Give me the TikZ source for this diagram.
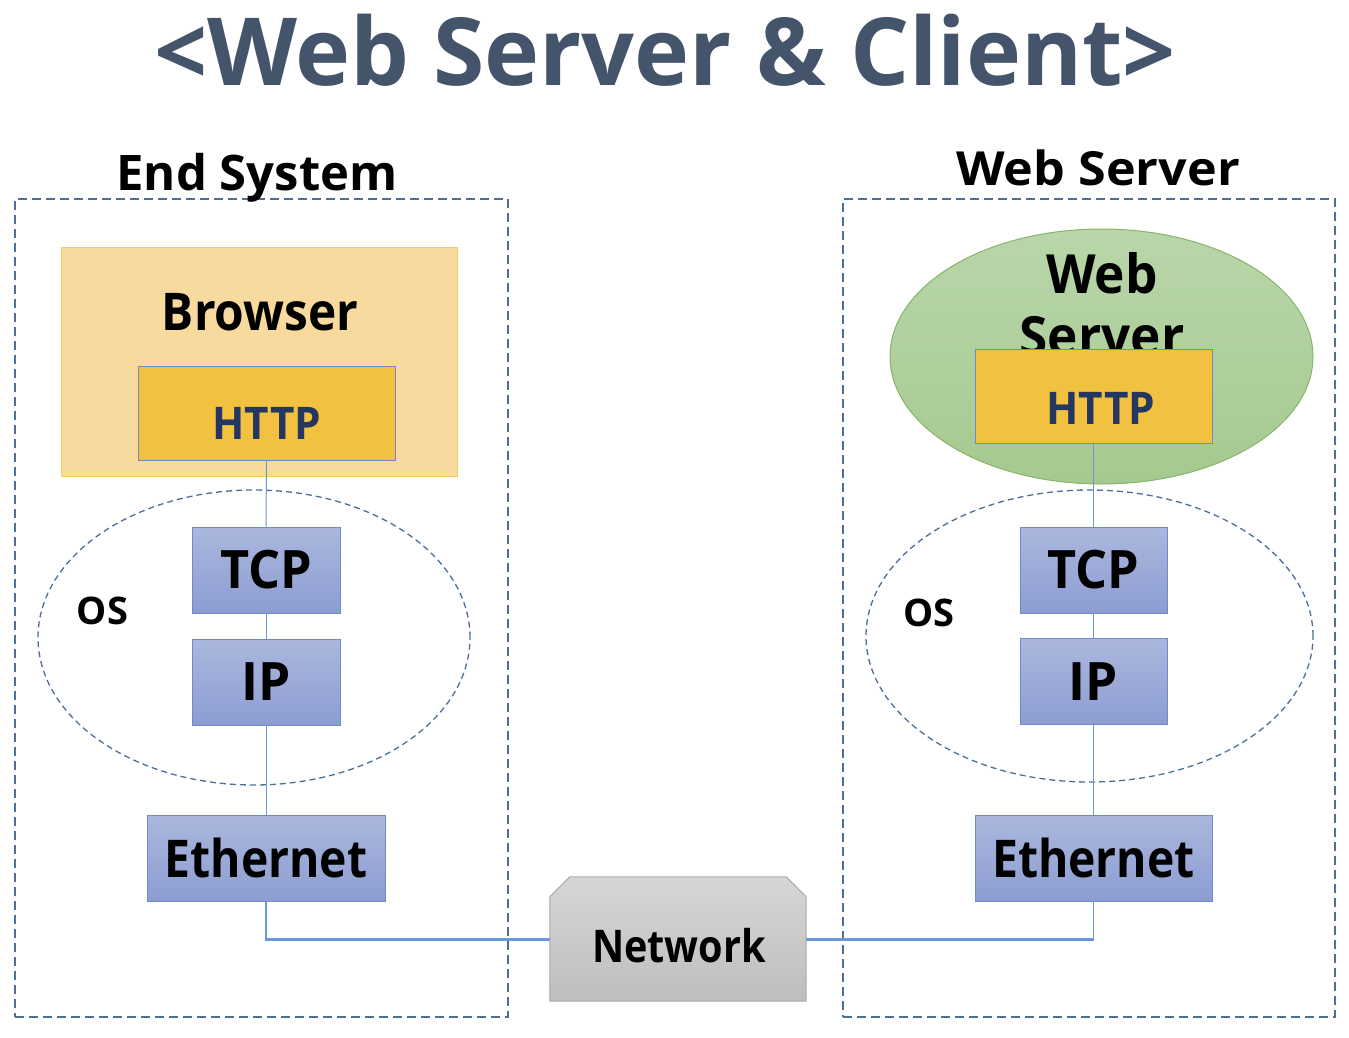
\documentclass[tikz,border=0pt]{standalone}
\usepackage{fontspec}
\setmainfont{Open Sans}
\usetikzlibrary{shapes.geometric}
\definecolor{titlec}{HTML}{44546A}
\definecolor{dashc}{HTML}{4E6E9A}
\definecolor{httptxt}{HTML}{253660}
\definecolor{httpfill}{HTML}{F2C13F}
\definecolor{boxedge}{HTML}{6F8BCC}
\definecolor{browfill}{HTML}{F8DA9E}
\definecolor{browedge}{HTML}{F7CB63}
\definecolor{bluetop}{HTML}{ABB7DD}
\definecolor{bluebot}{HTML}{8C9DD2}
\definecolor{thinc}{HTML}{6F96CF}
\definecolor{thickc}{HTML}{6A9AD6}
\definecolor{greentop}{HTML}{B9D6AA}
\definecolor{greenbot}{HTML}{A6C98F}
\definecolor{greenedge}{HTML}{88B46A}
\definecolor{greytop}{HTML}{D6D6D6}
\definecolor{greybot}{HTML}{BEBEBE}
\definecolor{greyedge}{HTML}{A9A9A9}
\newcommand{\fs}[3]{\scalebox{#2}[1]{\fontsize{#1}{#1}\selectfont\bfseries #3}}
\begin{document}
\begin{tikzpicture}[x=1pt,y=-1pt,
  txt/.style={inner sep=0pt, anchor=base},
  sysbox/.style={draw=dashc, line width=2pt, dash pattern=on 9pt off 5pt},
  osell/.style={ellipse, draw=dashc, line width=1.3pt, dash pattern=on 6pt off 4pt, inner sep=0pt},
  layer/.style={rectangle, draw=boxedge, line width=1pt, top color=bluetop, bottom color=bluebot, inner sep=0pt},
  httpbox/.style={rectangle, draw=boxedge, line width=1pt, fill=httpfill, inner sep=0pt},
  thin/.style={draw=thinc, line width=1pt},
  thick/.style={draw=thickc, line width=3pt},
  drop/.style={draw=thickc, line width=1.6pt},
]
\useasboundingbox (0,0) rectangle (1349,1038);
% title
\node[txt, text=titlec] (title) at (665,86) {\fs{94}{0.99}{<Web Server \& Client>}};
% system boxes
\node[sysbox, rectangle, inner sep=0pt, minimum width=493pt, minimum height=818pt] (endsys) at (261.5,608) {};
\node[sysbox, rectangle, inner sep=0pt, minimum width=492pt, minimum height=818pt] (websys) at (1089,608) {};
\node[txt] (endlbl) at (257,190) {\fs{49}{1}{End System}};
\node[txt] (weblbl) at (1098,185) {\fs{47}{1.07}{Web Server}};
% OS ellipses
\node[osell, minimum width=432pt, minimum height=295pt] (os1) at (254,637.5) {};
\node[osell, minimum width=447pt, minimum height=292pt] (os2) at (1089.5,636) {};
\node[txt] (os1lbl) at (102.5,624) {\fs{38}{1}{OS}};
\node[txt] (os2lbl) at (929,626) {\fs{38}{1}{OS}};
% left stack
\node[rectangle, draw=browedge, line width=1pt, fill=browfill, inner sep=0pt, minimum width=396pt, minimum height=229pt] (browser) at (259,361.5) {};
\node[txt] (browlbl) at (260,330) {\fs{52}{0.92}{Browser}};
\node[httpbox, minimum width=257pt, minimum height=94pt] (http1) at (266.5,413) {};
\node[txt, text=httptxt] (http1lbl) at (267,439) {\fs{45}{0.94}{HTTP}};
\node[layer, minimum width=148pt, minimum height=86pt] (tcp1) at (266,570) {\fs{53}{0.95}{TCP}};
\node[layer, minimum width=148pt, minimum height=86pt] (ip1) at (266,682) {\fs{53}{0.97}{IP}};
\node[layer, minimum width=238pt, minimum height=86pt] (eth1) at (266,858) {\fs{52}{0.89}{Ethernet}};
% right stack
\node[ellipse, draw=greenedge, line width=1pt, top color=greentop, bottom color=greenbot, inner sep=0pt, minimum width=423pt, minimum height=255pt] (websrv) at (1101.5,356.5) {};
\node[txt] (weblbl2) at (1102,293) {\fs{54}{0.95}{Web}};
\node[txt] (weblbl3) at (1102,355) {\fs{54}{0.95}{Server}};
\node[httpbox, minimum width=237pt, minimum height=94pt] (http2) at (1093.5,396) {};
\node[txt, text=httptxt] (http2lbl) at (1101,424) {\fs{45}{0.94}{HTTP}};
\node[layer, minimum width=147pt, minimum height=86pt] (tcp2) at (1093.5,570) {\fs{53}{0.95}{TCP}};
\node[layer, minimum width=147pt, minimum height=86pt] (ip2) at (1093.5,681.5) {\fs{53}{0.97}{IP}};
\node[layer, minimum width=237pt, minimum height=86pt] (eth2) at (1093.5,858) {\fs{52}{0.89}{Ethernet}};
% network
\node[rectangle, inner sep=0pt, minimum width=256pt, minimum height=124pt] (net) at (678,939) {};
\shade[draw=greyedge, line width=1pt, top color=greytop, bottom color=greybot]
  (net.south west) -- ([yshift=-20pt]net.north west) -- ([xshift=20pt]net.north west)
  -- ([xshift=-20pt]net.north east) -- ([yshift=-20pt]net.north east) -- (net.south east) -- cycle;
\node[txt] (netlbl) at (679,962) {\fs{45}{0.88}{Network}};
% connectors
\draw[thin] (http1.south) -- (tcp1.north);
\draw[thin] (tcp1.south) -- (ip1.north);
\draw[thin] (ip1.south) -- (eth1.north);
\draw[thin] (http2.south) -- (tcp2.north);
\draw[thin] (tcp2.south) -- (ip2.north);
\draw[thin] (ip2.south) -- (eth2.north);
\coordinate (c1) at ([yshift=-2pt]eth1.south |- net.west);
\coordinate (c2) at ([yshift=-2pt]eth2.south |- net.east);
\draw[drop] (eth1.south) -- (c1);
\draw[drop] (eth2.south) -- (c2);
\draw[thick] (eth1.south |- net.west) -- (net.west);
\draw[thick] (eth2.south |- net.east) -- (net.east);
\end{tikzpicture}
\end{document}
